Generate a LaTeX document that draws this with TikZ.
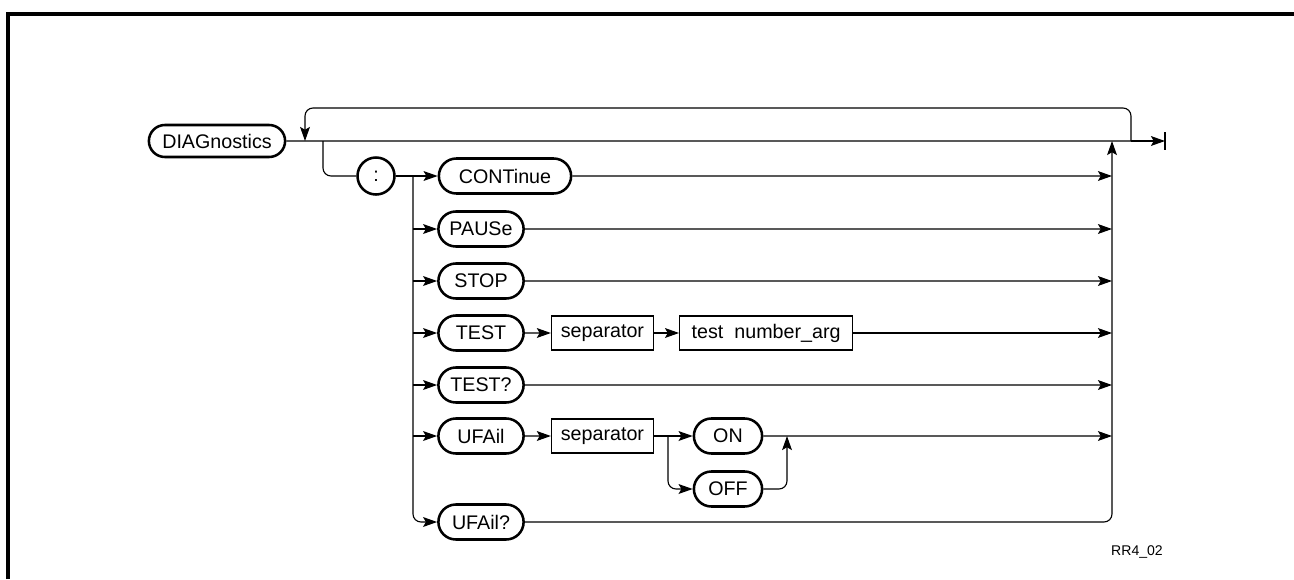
\documentclass[tikz,border=0pt]{standalone}
\usepackage{fontspec}
\setmainfont{Liberation Sans}
\usetikzlibrary{shapes.misc,arrows.meta,positioning}

\begin{document}
\begin{tikzpicture}[
        x=0.025cm, y=-0.025cm,
        font=\fontsize{14}{16}\selectfont,
        kw/.style={rounded rectangle, draw, line width=1.8pt, minimum width=2.2cm, minimum height=0.875cm, inner sep=1pt},
        param/.style={rectangle, draw, line width=0.8pt, minimum height=0.85cm, inner sep=2pt},
        line/.style={line width=0.8pt},
        arrow/.style={line, -{Stealth[length=10pt, width=7pt, inset=2pt]}},
        node distance=0.65cm
    ]
        \useasboundingbox (0,0) rectangle (1294,579);
        % Frame
        \draw[line width=3pt] (8,579) -- (8,14) -- (1294,14);

        % Nodes
        \node[kw, minimum width=3.475cm, minimum height=0.8cm] (diag) at (217,141) {DIAGnostics};
        \node[circle, draw, line width=1.8pt, minimum size=0.925cm, inner sep=0pt] (colon) at (376,176) {:};
        \node[kw, minimum width=3.375cm] (cont) at (505,176) {CONTinue};
        \node[kw] (pause) at (481,229) {PAUSe};
        \node[kw] (stop) at (481,281) {STOP};
        \node[kw] (test) at (481,333) {TEST};
        \node[param, minimum width=2.55cm, right=of test] (sepa) {separator};
        \node[param, minimum width=4.325cm, right=0.625cm of sepa] (numarg) {test\ \ number\_arg};
        \node[kw] (testq) at (481,385) {TEST?};
        \node[kw] (ufail) at (481,436) {UFAil};
        \node[param, minimum width=2.55cm, right=of ufail] (sepb) {separator};
        \node[kw, minimum width=1.775cm] (on) at (728,436) {ON};
        \node[kw, minimum width=1.775cm] (off) at (728,489) {OFF};
        \node[kw] (ufailq) at (481,522) {UFAil?};
        \node[font=\fontsize{10}{12}\selectfont] (fig) at (1137,552) {RR4\_02};

        % Joints
        \coordinate (join) at (305,141);
        \coordinate (split) at (323,141);
        \coordinate (bus) at (413,176);
        \coordinate (out) at (1112,141);
        \coordinate (loop) at (1131,141);
        \coordinate (stop end) at (1165,141);
        \coordinate (fork) at (668,436);
        \coordinate (back) at (787,436);

        % Arrows
        \draw[line] (diag) -- (loop);
        \draw[arrow] (loop) -- (stop end);
        \draw[line width=1.2pt] ([yshift=0.22cm]stop end) -- ([yshift=-0.22cm]stop end);
        \draw[arrow, rounded corners=0.2cm] (loop) -- ++(0,-33) -| (join);
        \draw[line, rounded corners=0.2cm] (split) |- (colon);
        \draw[arrow] (colon) -- (cont);
        \draw[arrow, rounded corners=0.2cm] (bus) |- (ufailq);
        \draw[arrow] (bus |- pause) -- (pause);
        \draw[arrow] (bus |- stop) -- (stop);
        \draw[arrow] (bus |- test) -- (test);
        \draw[arrow] (bus |- testq) -- (testq);
        \draw[arrow] (bus |- ufail) -- (ufail);
        \draw[arrow] (test) -- (sepa);
        \draw[arrow] (sepa) -- (numarg);
        \draw[arrow] (ufail) -- (sepb);
        \draw[arrow] (sepb) -- (on);
        \draw[arrow, rounded corners=0.2cm] (fork) |- (off);
        \draw[arrow, rounded corners=0.2cm] (off) -| (back);
        \draw[arrow] (cont) -- (out |- cont);
        \draw[arrow] (pause) -- (out |- pause);
        \draw[arrow] (stop) -- (out |- stop);
        \draw[arrow] (numarg) -- (out |- numarg);
        \draw[arrow] (testq) -- (out |- testq);
        \draw[arrow] (on) -- (out |- on);
        \draw[arrow, rounded corners=0.2cm] (ufailq) -| (out);
    \end{tikzpicture}
\end{document}
